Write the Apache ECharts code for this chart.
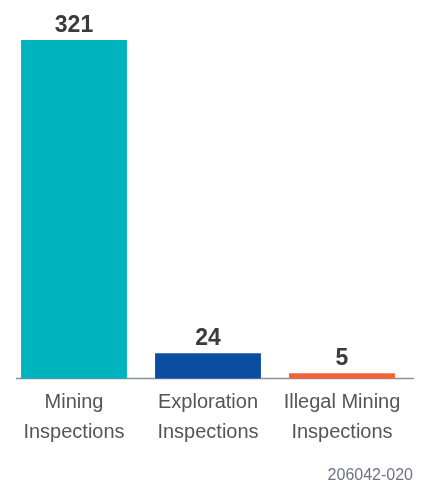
<!DOCTYPE html>
<html>
<head>
<meta charset="utf-8">
<script src="https://cdn.jsdelivr.net/npm/echarts@6/dist/echarts.min.js"></script>
<style>
  html, body { margin: 0; padding: 0; background: #fff; }
  #chart { width: 426px; height: 486px; }
</style>
</head>
<body>
<div id="chart"></div>
<script>
// chart data
const categories = ['Mining\nInspections', 'Exploration\nInspections', 'Illegal Mining\nInspections'];
const inspections = [321, 24, 5];
const barColors = ['#00B4BD', '#0B4DA1', '#F26236'];
const footnote = '206042-020';

const chart = echarts.init(document.getElementById('chart'));

const option = {
  animation: false,
  grid: { left: 7, right: 17, top: 40, bottom: 107.5 },
  xAxis: {
    type: 'category',
    data: categories,
    axisTick: { show: false },
    axisLine: { show: false },
    axisLabel: {
      color: '#555555',
      fontFamily: '"Liberation Sans Narrow", "Arial Narrow", "Liberation Sans", sans-serif',
      fontSize: 20,
      lineHeight: 30,
      margin: 9,
      interval: 0
    }
  },
  yAxis: {
    type: 'value',
    min: 0,
    max: 'dataMax',
    show: false,
    splitLine: { show: false }
  },
  series: [{
    type: 'bar',
    data: inspections.map((v, i) => ({ value: v, itemStyle: { color: barColors[i] } })),
    barCategoryGap: '21%',
    label: {
      show: true,
      position: 'top',
      distance: 3,
      color: '#3b3b3b',
      fontFamily: '"Liberation Sans", Arial, sans-serif',
      fontWeight: 'bold',
      fontSize: 23
    }
  }],
  graphic: [
    {
      type: 'line',
      shape: { x1: 16, y1: 378.5, x2: 414, y2: 378.5 },
      style: { stroke: '#8a909a', lineWidth: 1.5 }
    },
    {
      type: 'text',
      right: 13,
      bottom: 2,
      style: {
        text: footnote,
        fill: '#6d7380',
        font: '16px "Liberation Sans Narrow", "Liberation Sans", sans-serif'
      }
    }
  ]
};

chart.setOption(option);
</script>
</body>
</html>
